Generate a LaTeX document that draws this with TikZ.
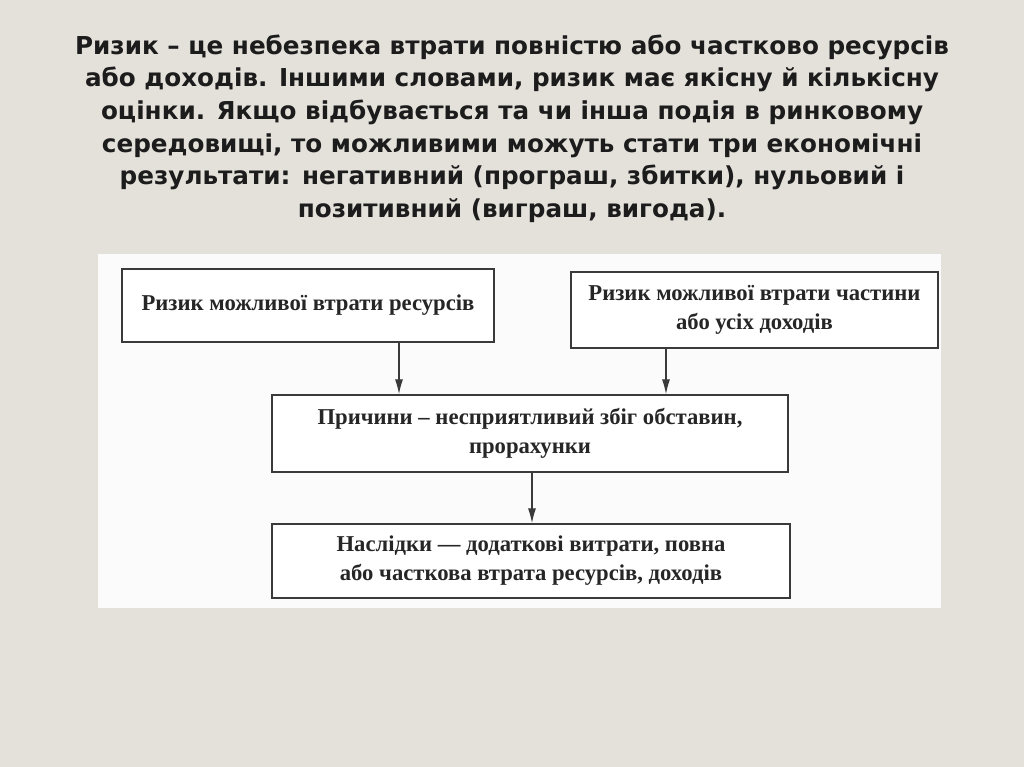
\documentclass[tikz,border=0pt]{standalone}
\usepackage{fontspec}
\setmainfont{Liberation Serif}
\newfontfamily\titlefont{DejaVu Sans}
\usetikzlibrary{arrows.meta}
\definecolor{bgcol}{HTML}{E4E1DA}
\definecolor{inkcol}{HTML}{1C1C1C}
\definecolor{linecol}{HTML}{3A3A3A}
\definecolor{boxtext}{HTML}{262626}
\tikzset{
  box/.style={draw=linecol, line width=1.4pt, fill=white, inner sep=0pt, align=center,
    text=boxtext, font=\bfseries\fontsize{17}{21.8}\selectfont},
  arr/.style={draw=linecol, line width=0.8pt, -{Latex[length=11pt,width=6pt]}},
}
\begin{document}
\begin{tikzpicture}[x=0.75pt,y=-0.75pt]
\useasboundingbox (0,0) rectangle (1024,767);
\fill[bgcol] (0,0) rectangle (1024,767);
\node[anchor=north, align=center, text=inkcol,
  font=\titlefont\bfseries\fontsize{18.5}{24.5}\selectfont] (title) at (512,30)
  {Ризик – це небезпека втрати повністю або частково ресурсів\\
   або доходів. Іншими словами, ризик має якісну й кількісну\\
   оцінки. Якщо відбувається та чи інша подія в ринковому\\
   середовищі, то можливими можуть стати три економічні\\
   результати: негативний (програш, збитки), нульовий і\\
   позитивний (виграш, вигода).};
\fill[white!97!gray] (98,254) rectangle (941,608);
\node[box, minimum width=372*0.75pt, minimum height=73*0.75pt] (b1) at (308,305.5)
  {Ризик можливої втрати ресурсів};
\node[box, minimum width=367*0.75pt, minimum height=76*0.75pt] (b2) at (754.5,310)
  {Ризик можливої втрати частини\\ або усіх доходів};
\node[box, minimum width=516*0.75pt, minimum height=77*0.75pt] (b3) at (530,433.5)
  {Причини – несприятливий збіг обставин,\\ прорахунки};
\node[box, minimum width=518*0.75pt, minimum height=74*0.75pt] (b4) at (531,561)
  {Наслідки — додаткові витрати, повна\\ або часткова втрата ресурсів, доходів};
\coordinate (a1) at (399,0);
\coordinate (a2) at (666,0);
\coordinate (a3) at (532,0);
\draw[arr] (b1.south -| a1) -- (b3.north -| a1);
\draw[arr] (b2.south -| a2) -- (b3.north -| a2);
\draw[arr] (b3.south -| a3) -- (b4.north -| a3);
\end{tikzpicture}
\end{document}
